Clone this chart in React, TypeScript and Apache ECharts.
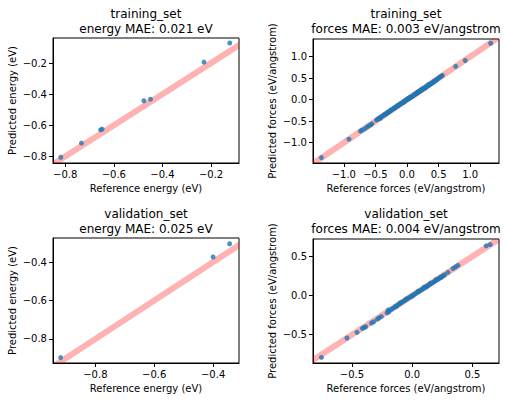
import React, { useEffect, useRef } from "react";
import * as echarts from "echarts";

// ---- Data ----
const trainEnergyRef = [-0.818, -0.733, -0.654, -0.648, -0.476, -0.449, -0.229, -0.123];
const trainEnergyPred = [-0.805, -0.714, -0.629, -0.624, -0.442, -0.432, -0.194, -0.071];

const valEnergyRef = [-0.918, -0.4, -0.344];
const valEnergyPred = [-0.897, -0.374, -0.305];

const trainForceRef = [
  -1.354, -0.918, -0.737, -0.712, -0.669, -0.633, -0.606, -0.574, -0.554,
  -0.484, -0.462, -0.447, -0.431, -0.418, -0.402, -0.388, -0.371, -0.355, -0.343,
  -0.326, -0.311, -0.297, -0.281, -0.266, -0.252, -0.238, -0.224, -0.209, -0.195,
  -0.182, -0.168, -0.153, -0.141, -0.127, -0.112, -0.098, -0.085, -0.071, -0.057,
  -0.044, -0.031, -0.018, -0.006, 0.008, 0.021, 0.034, 0.047, 0.061, 0.074,
  0.088, 0.101, 0.115, 0.128, 0.142, 0.156, 0.169, 0.183, 0.196, 0.211,
  0.224, 0.238, 0.252, 0.266, 0.281, 0.295, 0.309, 0.323, 0.338, 0.352,
  0.367, 0.381, 0.396, 0.411, 0.426, 0.441, 0.456, 0.471, 0.487, 0.506,
  0.525, 0.544, 0.56, 0.771, 0.922, 1.324,
  0.05, 0.12, 0.2, -0.1, 0.3, 0.25, -0.2, 0.16, 0.0, -0.3, 0.35, 0.42,
  -0.25, -0.15, -0.05, 0.02, 0.09, 0.17, 0.23, 0.28, 0.33, 0.38, 0.45, -0.35, -0.42,
];
const trainForcePred = [
  -1.346, -0.918, -0.731, -0.708, -0.678, -0.638, -0.607, -0.584, -0.561,
  -0.474, -0.455, -0.441, -0.422, -0.413, -0.395, -0.381, -0.366, -0.349, -0.338,
  -0.322, -0.307, -0.29, -0.278, -0.261, -0.249, -0.232, -0.221, -0.205, -0.192,
  -0.176, -0.166, -0.151, -0.137, -0.125, -0.111, -0.096, -0.081, -0.07, -0.056,
  -0.041, -0.031, -0.016, -0.005, 0.006, 0.019, 0.031, 0.044, 0.057, 0.07,
  0.083, 0.096, 0.109, 0.122, 0.135, 0.149, 0.161, 0.175, 0.188, 0.202,
  0.215, 0.229, 0.243, 0.257, 0.272, 0.286, 0.301, 0.315, 0.331, 0.344,
  0.36, 0.374, 0.389, 0.404, 0.42, 0.436, 0.452, 0.468, 0.485, 0.508,
  0.528, 0.547, 0.562, 0.774, 0.911, 1.312,
  0.058, 0.128, 0.206, -0.092, 0.292, 0.258, -0.195, 0.166, 0.008, -0.292, 0.341, 0.414,
  -0.239, -0.141, -0.058, 0.029, 0.081, 0.177, 0.238, 0.271, 0.339, 0.372, 0.441, -0.341, -0.431,
];

const valForceRef = [
  -0.754, -0.542, -0.458, -0.414, -0.4, -0.386, -0.339, -0.32, -0.289, -0.276,
  -0.256, -0.209, -0.193, -0.201,
  -0.175, -0.162, -0.15, -0.138, -0.126, -0.114, -0.102, -0.09, -0.078, -0.066,
  -0.054, -0.042, -0.03, -0.018, -0.006, 0.006, 0.018, 0.03, 0.042, 0.054,
  0.066, 0.078, 0.09, 0.102, 0.114, 0.126, 0.138, 0.15, 0.162, 0.174,
  0.186, 0.198, 0.21, 0.222, 0.234, 0.246, 0.258, 0.27,
  0.297, 0.339, 0.36, 0.38, 0.615, 0.648,
  -0.1, 0.05, 0.15, 0.2, -0.05, 0.1, -0.13, 0.0, 0.12, 0.24,
];
const valForcePred = [
  -0.79, -0.542, -0.47, -0.42, -0.408, -0.398, -0.352, -0.334, -0.3, -0.287,
  -0.268, -0.222, -0.207, -0.185,
  -0.178, -0.166, -0.153, -0.14, -0.128, -0.116, -0.104, -0.091, -0.079, -0.067,
  -0.055, -0.043, -0.031, -0.019, -0.007, 0.005, 0.016, 0.028, 0.04, 0.052,
  0.063, 0.075, 0.087, 0.099, 0.111, 0.122, 0.134, 0.146, 0.158, 0.17,
  0.181, 0.193, 0.205, 0.218, 0.229, 0.241, 0.253, 0.266,
  0.296, 0.345, 0.365, 0.385, 0.635, 0.651,
  -0.094, 0.056, 0.156, 0.205, -0.045, 0.106, -0.138, -0.008, 0.113, 0.232,
];

const ticksEnergyTrain = [-0.8, -0.6, -0.4, -0.2];
const ticksForceTrain = [-1.0, -0.5, 0.0, 0.5, 1.0];
const ticksEnergyVal = [-0.8, -0.6, -0.4];
const ticksForceVal = [-0.5, 0.0, 0.5];

const titlesTop = ["training_set", "training_set", "validation_set", "validation_set"];
const titlesBottom = [
  "energy MAE: 0.021 eV",
  "forces MAE: 0.003 eV/angstrom",
  "energy MAE: 0.025 eV",
  "forces MAE: 0.004 eV/angstrom",
];
const xNames = [
  "Reference energy (eV)",
  "Reference forces (eV/angstrom)",
  "Reference energy (eV)",
  "Reference forces (eV/angstrom)",
];
const yNames = [
  "Predicted energy (eV)",
  "Predicted forces (eV/angstrom)",
  "Predicted energy (eV)",
  "Predicted forces (eV/angstrom)",
];

// axis ranges [xmin, xmax, ymin, ymax]
const ranges = [
  [-0.85, -0.085, -0.842, -0.039],
  [-1.487, 1.456, -1.472, 1.411],
  [-0.944, -0.312, -0.925, -0.275],
  [-0.824, 0.721, -0.861, 0.722],
];

// y = x reference line endpoints (clipped to the plot area)
const diagonal = [-3, 3];

const FONT = "DejaVu Sans";
const fmt = (v: number) => (v < 0 ? "\u2212" : "") + Math.abs(v).toFixed(1);

export default function App() {
  const ref = useRef<HTMLDivElement>(null);
  useEffect(() => {
    if (!ref.current) return;
    const chart = echarts.init(ref.current, undefined, { renderer: "svg" });
    const grids = [
      { left: 53, top: 38, width: 186, height: 125 },
      { left: 313, top: 39, width: 186, height: 124 },
      { left: 53, top: 238, width: 186, height: 125 },
      { left: 313, top: 239, width: 186, height: 124 },
    ];
    const tickSets = [ticksEnergyTrain, ticksForceTrain, ticksEnergyVal, ticksForceVal];
    const pairs = [
      [trainEnergyRef, trainEnergyPred],
      [trainForceRef, trainForcePred],
      [valEnergyRef, valEnergyPred],
      [valForceRef, valForcePred],
    ];
    const axisCommon = (ticks: number[]) => ({
      type: "value" as const,
      axisLine: { show: true, onZero: false, lineStyle: { color: "#000", width: 1 } },
      axisTick: { show: true, length: 4, customValues: ticks, lineStyle: { color: "#000" } },
      axisLabel: {
        customValues: ticks,
        formatter: (v: number) => fmt(v),
        color: "#000",
        fontSize: 10,
        fontFamily: FONT,
        margin: 6,
      },
      splitLine: { show: false },
      nameLocation: "middle" as const,
      nameTextStyle: { color: "#000", fontSize: 10, fontFamily: FONT },
    });
    const xAxis = grids.map((_, i) => ({
      ...axisCommon(tickSets[i]),
      gridIndex: i,
      min: ranges[i][0],
      max: ranges[i][1],
      name: xNames[i],
      nameGap: 20,
    }));
    const yAxis = grids.map((_, i) => ({
      ...axisCommon(tickSets[i]),
      gridIndex: i,
      min: ranges[i][2],
      max: ranges[i][3],
      name: yNames[i],
      nameGap: 36,
    }));
    const series: any[] = [];
    pairs.forEach((p, i) => {
      series.push({
        type: "custom",
        xAxisIndex: i,
        yAxisIndex: i,
        data: [[diagonal[0], diagonal[0], diagonal[1], diagonal[1]]],
        clip: true,
        z: 2,
        renderItem: (params: any, api: any) => {
          const a = api.coord([api.value(0), api.value(1)]);
          const b = api.coord([api.value(2), api.value(3)]);
          return {
            type: "line",
            shape: { x1: a[0], y1: a[1], x2: b[0], y2: b[1] },
            style: { stroke: "rgba(255,0,0,0.3)", lineWidth: 6, fill: "none" },
          };
        },
      });
      series.push({
        type: "scatter",
        xAxisIndex: i,
        yAxisIndex: i,
        data: p[0].map((x, k) => [x, p[1][k]]),
        symbolSize: 5,
        itemStyle: { color: "#1f77b4" },
        z: 3,
      });
    });
    const centers = [146, 406, 146, 406];
    const tops = [13.5, 13.5, 214, 214];
    const graphic: any[] = [];
    for (let i = 0; i < 4; i++) {
      graphic.push({
        type: "text",
        x: centers[i],
        y: tops[i],
        style: {
          text: titlesTop[i],
          fill: "#000",
          font: `12px "${FONT}"`,
          textAlign: "center",
          textVerticalAlign: "middle",
        },
      });
      graphic.push({
        type: "text",
        x: centers[i],
        y: tops[i] + 15,
        style: {
          text: titlesBottom[i],
          fill: "#000",
          font: `12px "${FONT}"`,
          textAlign: "center",
          textVerticalAlign: "middle",
        },
      });
    }
    chart.setOption({
      animation: false,
      backgroundColor: "#fff",
      grid: grids.map((g) => ({ ...g, show: true, borderColor: "#000", borderWidth: 1, backgroundColor: "transparent" })),
      xAxis,
      yAxis,
      series,
      graphic,
    });
    return () => chart.dispose();
  }, []);
  return (
    <div
      ref={ref}
      style={{ position: "absolute", left: 0, top: 0, width: 507, height: 402 }}
    />
  );
}
